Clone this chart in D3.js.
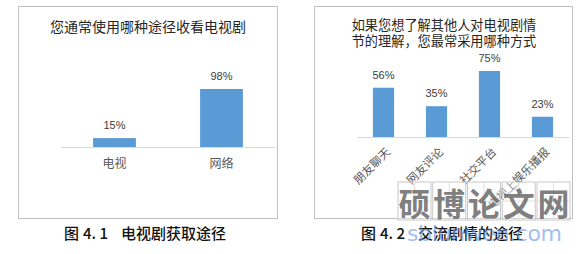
<!DOCTYPE html>
<html><head><meta charset="utf-8">
<script src="https://cdn.jsdelivr.net/npm/d3@7"></script>
<style>body{margin:0;background:#fff}svg{display:block}</style>
</head><body>
<script>
const cats1 = ["电视", "网络"];
const vals1 = [15, 98];
const cats2 = ["朋友聊天", "网友评论", "社交平台", "电视上娱乐播报"];
const vals2 = [56, 35, 75, 23];
const title1 = ["您通常使用哪种途径收看电视剧"];
const title2 = ["如果您想了解其他人对电视剧情", "节的理解，您最常采用哪种方式"];
const caption1 = ["图", "4. 1", "电视剧获取途径"];
const caption2 = ["图", "4. 2", "交流剧情的途径"];
const wmChars = ["硕", "博", "论", "文", "网"];
const wmUrl = "sblunwen.com";

const W = 587, H = 254;
const svg = d3.select("body").append("svg").attr("width", W).attr("height", H);
svg.append("rect").attr("width", W).attr("height", H).attr("fill", "#fff");
const CJK = "'Noto Sans CJK SC', sans-serif";
const BAR = "#5b9bd5";

function panel(opt) {
  const g = svg.append("g");
  g.append("rect").attr("x", opt.box[0] + 0.5).attr("y", opt.box[1] + 0.5)
    .attr("width", opt.box[2]).attr("height", opt.box[3])
    .attr("fill", "none").attr("stroke", "#bfbfbf").attr("stroke-width", 1);
  const tt = g.append("text").attr("class", "title")
    .attr("text-anchor", "middle").attr("dominant-baseline", "central")
    .attr("font-family", CJK).attr("font-size", opt.titleSize).attr("fill", "#262626");
  tt.selectAll("tspan").data(opt.title).join("tspan")
    .attr("x", opt.titleX).attr("y", (d, i) => opt.titleY + i * 16.5).text(d => d);
  const x = d3.scaleBand().domain(opt.cats).range(opt.xr).padding(0);
  const y = d3.scaleLinear().domain([0, 100]).range([opt.base, opt.base - opt.full]);
  const bw = x.bandwidth() * 0.4;
  g.selectAll("rect.bar").data(opt.vals).join("rect").attr("class", "bar")
    .attr("x", (d, i) => x(opt.cats[i]) + x.bandwidth() / 2 - bw / 2)
    .attr("y", d => y(d)).attr("width", bw).attr("height", d => y(0) - y(d))
    .attr("fill", BAR);
  const ax = g.append("g").attr("transform", `translate(0,${opt.base})`)
    .call(d3.axisBottom(x).tickSize(0).tickFormat(""));
  ax.select(".domain").attr("stroke", "#d9d9d9").attr("stroke-width", 1.2);
  g.selectAll("text.val").data(opt.vals).join("text").attr("class", "val")
    .attr("x", (d, i) => x(opt.cats[i]) + x.bandwidth() / 2)
    .attr("y", d => y(d) - 13).attr("text-anchor", "middle").attr("dominant-baseline", "central")
    .attr("font-family", "'Liberation Sans', Arial, sans-serif").attr("font-size", 11)
    .attr("fill", "#404040").text(d => d + "%");
  if (opt.rotate) {
    g.selectAll("text.cat").data(opt.cats).join("text").attr("class", "cat")
      .attr("transform", d => `translate(${x(d) + x.bandwidth() / 2 + 4},${opt.base + 12}) rotate(-45)`)
      .attr("text-anchor", "end").attr("dominant-baseline", "central")
      .attr("font-family", CJK).attr("font-size", 11.5).attr("fill", "#595959").text(d => d);
  } else {
    g.selectAll("text.cat").data(opt.cats).join("text").attr("class", "cat")
      .attr("x", d => x(d) + x.bandwidth() / 2).attr("y", opt.base + 15)
      .attr("text-anchor", "middle").attr("dominant-baseline", "central")
      .attr("font-family", CJK).attr("font-size", 12).attr("fill", "#595959").text(d => d);
  }
  const cap = g.append("text").attr("y", 232).attr("dominant-baseline", "central")
    .attr("font-family", CJK).attr("font-size", 15).attr("font-weight", 500).attr("fill", "#111");
  cap.selectAll("tspan").data(opt.caption).join("tspan")
    .attr("x", (d, i) => opt.capX[i]).text(d => d);
}

panel({box: [18, 6, 259, 212], title: title1, titleX: 148, titleY: 26, titleSize: 14,
  cats: cats1, vals: vals1, xr: [61, 275], base: 147, full: 59.2, rotate: false,
  caption: caption1, capX: [64, 83, 121]});
panel({box: [314, 6, 258, 212], title: title2, titleX: 444, titleY: 23.5, titleSize: 13.2,
  cats: cats2, vals: vals2, xr: [357, 569], base: 137, full: 88, rotate: true,
  caption: caption2, capX: [361, 380, 418]});

// watermark
const wm = svg.append("g");
const bx = d3.scaleBand().domain(wmChars).range([398, 570]).paddingInner(0.05);
wm.selectAll("rect").data(wmChars).join("rect")
  .attr("x", d => bx(d)).attr("y", 182).attr("width", bx.bandwidth()).attr("height", 38)
  .attr("fill", "rgba(255,255,255,0.35)").attr("stroke", "#c8c8c8").attr("stroke-width", 1);
wm.selectAll("line.v").data(wmChars).join("line").attr("class", "v")
  .attr("x1", d => bx(d) + bx.bandwidth() / 2).attr("x2", d => bx(d) + bx.bandwidth() / 2)
  .attr("y1", 182).attr("y2", 220).attr("stroke", "#e0e0e0");
wm.selectAll("line.h").data(wmChars).join("line").attr("class", "h")
  .attr("x1", d => bx(d)).attr("x2", d => bx(d) + bx.bandwidth())
  .attr("y1", 201).attr("y2", 201).attr("stroke", "#e0e0e0");
wm.selectAll("text").data(wmChars).join("text")
  .attr("x", d => bx(d) + bx.bandwidth() / 2).attr("y", 202)
  .attr("text-anchor", "middle").attr("dominant-baseline", "central")
  .attr("font-family", CJK).attr("font-weight", 700).attr("font-size", 32).attr("fill", "#6e6e6e")
  .attr("fill-opacity", 0.9).text(d => d);
svg.append("text").attr("x", 407).attr("y", 233).attr("dominant-baseline", "central")
  .attr("font-family", "'DejaVu Sans', sans-serif").attr("font-size", 22)
  .attr("textLength", 155).attr("fill", "#6b9ae3").attr("fill-opacity", 0.65).text(wmUrl);
</script>
</body></html>
